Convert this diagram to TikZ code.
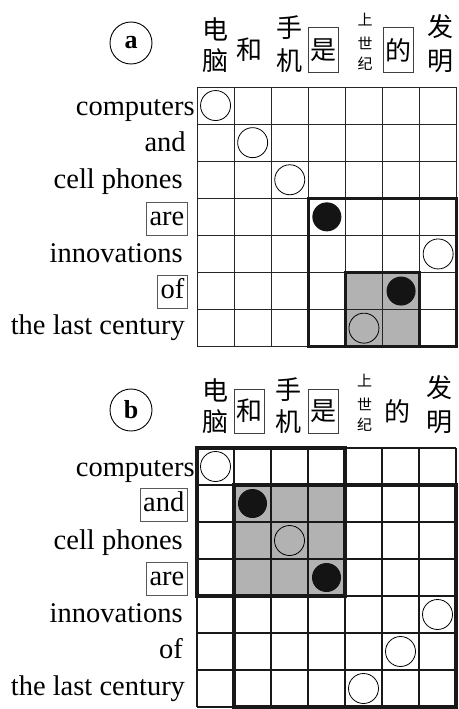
\documentclass[tikz,border=0pt]{standalone}
\usepackage{fontspec}
\setmainfont{Liberation Serif}
\newfontfamily\cjk{Noto Sans CJK SC}
\begin{document}
\begin{tikzpicture}[x=1pt,y=-1pt,
  en/.style={font=\fontsize{28.5}{28.5}\selectfont, inner sep=0pt, anchor=base east},
  enbox/.style={en, draw=black!65, line width=0.8pt, inner xsep=3pt, inner ysep=3pt, text height=20pt, text depth=7pt},
  zh/.style={font=\cjk\fontsize{26}{26}\selectfont, inner sep=0pt},
  zhs/.style={font=\cjk\fontsize{15}{15}\selectfont, inner sep=0pt},
  zhbox/.style={zh, draw=black!75, line width=0.8pt, minimum width=30pt, minimum height=44pt},
  paneltag/.style={circle, draw, line width=0.9pt, minimum size=42pt, inner sep=0pt, font=\fontsize{26}{26}\selectfont\bfseries},
  opendot/.style={circle, draw, line width=0.8pt, minimum size=30pt, inner sep=0pt},
  blackdot/.style={circle, fill=black!92, minimum size=29pt, inner sep=0pt},
  shade/.style={fill=black!30},
]
\useasboundingbox (0,0) rectangle (458,709);

% ---------------- panel a ----------------
\node[paneltag] (taga) at (131,43) {a};
\begin{scope}[shift={(197,87)}, x=37.1pt, y=-37.1pt]
  \fill[shade] (4,5) rectangle (6,7);
  \foreach \i in {0,...,7} {
    \draw[line width=0.9pt, black!85] (\i,0) -- (\i,7);
    \draw[line width=0.9pt, black!85] (0,\i) -- (7,\i);
  }
  \draw[line width=3.3pt, black!90] (3,3) rectangle (7,7);
  \draw[line width=3.3pt, black!90] (4,5) rectangle (6,7);
  % headers
  \node[zh] (a-h1) at (0.5,-1.56) {电};
  \node[zh] (a-h2) at (0.5,-0.70) {脑};
  \node[zh] (a-h3) at (1.42,-1.0) {和};
  \node[zh] (a-h4) at (2.48,-1.59) {手};
  \node[zh] (a-h5) at (2.48,-0.70) {机};
  \node[zhbox] (a-h6) at (3.42,-1.0) {是};
  \node[zhs] (a-h7) at (4.53,-1.81) {上};
  \node[zhs] (a-h8) at (4.53,-1.19) {世};
  \node[zhs] (a-h9) at (4.53,-0.62) {纪};
  \node[zhbox] (a-h10) at (5.42,-1.0) {的};
  \node[zh] (a-h11) at (6.55,-1.62) {发};
  \node[zh] (a-h12) at (6.55,-0.70) {明};
  % row labels
  \node[en] (a-r1) at (-0.06,0.76) {computers};
  \node[en] (a-r2) at (-0.30,1.74) {and};
  \node[en] (a-r3) at (-0.38,2.74) {cell phones};
  \node[enbox] (a-r4) at (-0.25,3.72) {are};
  \node[en] (a-r5) at (-0.38,4.72) {innovations};
  \node[enbox] (a-r6) at (-0.25,5.70) {of};
  \node[en] (a-r7) at (-0.32,6.68) {the last century};
  % alignment marks
  \node[opendot] (a-c1) at (0.5,0.5) {};
  \node[opendot] (a-c2) at (1.5,1.5) {};
  \node[opendot] (a-c3) at (2.5,2.5) {};
  \node[blackdot] (a-c4) at (3.5,3.5) {};
  \node[opendot] (a-c5) at (6.5,4.5) {};
  \node[blackdot] (a-c6) at (5.5,5.5) {};
  \node[opendot] (a-c7) at (4.5,6.5) {};
\end{scope}

% ---------------- panel b ----------------
\node[paneltag] (tagb) at (131,410) {b};
\begin{scope}[shift={(197,448)}, x=37pt, y=-37pt]
  \fill[shade] (1,1) rectangle (4,4);
  \foreach \i in {0,...,7} {
    \draw[line width=1.8pt, black!90] (\i,0) -- (\i,7);
    \draw[line width=1.8pt, black!90] (0,\i) -- (7,\i);
  }
  \draw[line width=3.6pt, black!90] (0,0) rectangle (4,4);
  \draw[line width=3.6pt, black!90] (1,1) rectangle (7,7);
  % headers
  \node[zh] (b-h1) at (0.5,-1.56) {电};
  \node[zh] (b-h2) at (0.5,-0.70) {脑};
  \node[zhbox] (b-h3) at (1.42,-1.0) {和};
  \node[zh] (b-h4) at (2.48,-1.59) {手};
  \node[zh] (b-h5) at (2.48,-0.70) {机};
  \node[zhbox] (b-h6) at (3.42,-1.0) {是};
  \node[zhs] (b-h7) at (4.53,-1.81) {上};
  \node[zhs] (b-h8) at (4.53,-1.19) {世};
  \node[zhs] (b-h9) at (4.53,-0.62) {纪};
  \node[zh] (b-h10) at (5.42,-1.0) {的};
  \node[zh] (b-h11) at (6.55,-1.62) {发};
  \node[zh] (b-h12) at (6.55,-0.70) {明};
  % row labels
  \node[en] (b-r1) at (-0.06,0.76) {computers};
  \node[enbox] (b-r2) at (-0.25,1.72) {and};
  \node[en] (b-r3) at (-0.38,2.74) {cell phones};
  \node[enbox] (b-r4) at (-0.25,3.72) {are};
  \node[en] (b-r5) at (-0.38,4.72) {innovations};
  \node[en] (b-r6) at (-0.38,5.70) {of};
  \node[en] (b-r7) at (-0.32,6.68) {the last century};
  % alignment marks
  \node[opendot] (b-c1) at (0.5,0.5) {};
  \node[blackdot] (b-c2) at (1.5,1.5) {};
  \node[opendot] (b-c3) at (2.5,2.5) {};
  \node[blackdot] (b-c4) at (3.5,3.5) {};
  \node[opendot] (b-c5) at (6.5,4.5) {};
  \node[opendot] (b-c6) at (5.5,5.5) {};
  \node[opendot] (b-c7) at (4.5,6.5) {};
\end{scope}
\end{tikzpicture}
\end{document}
